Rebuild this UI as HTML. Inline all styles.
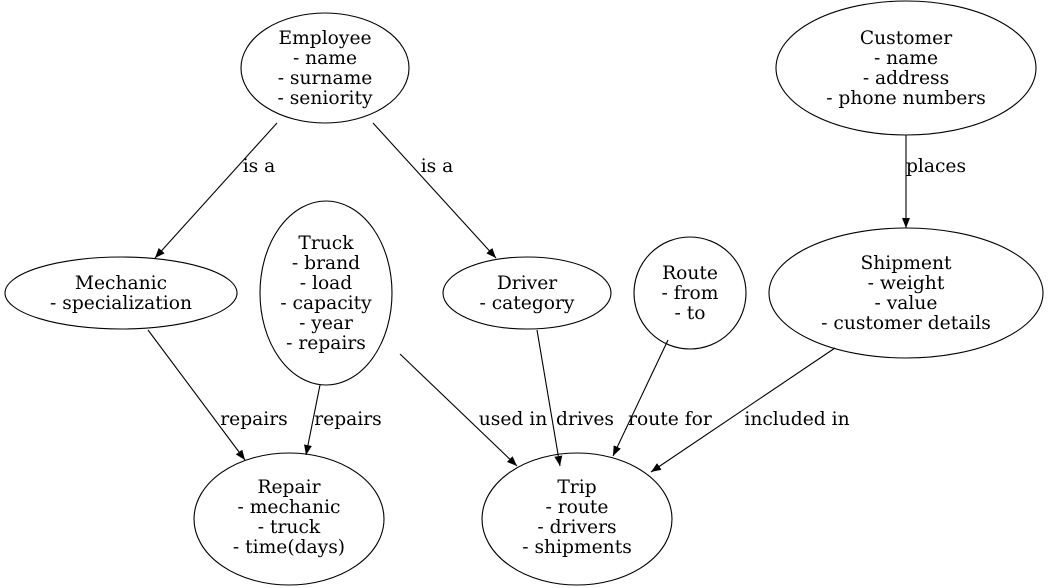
<!DOCTYPE html>
<html><head><meta charset="utf-8"><style>
html,body{margin:0;padding:0;background:#fff;}
svg{display:block}
text{font-family:"DejaVu Serif","Liberation Serif",serif;font-size:18.67px;fill:#000;text-anchor:middle;}
</style></head><body>
<svg width="1049" height="588" viewBox="0 0 1049 588" xmlns="http://www.w3.org/2000/svg">
<defs><marker id="a" markerWidth="10" markerHeight="8" refX="10" refY="4" orient="auto" markerUnits="userSpaceOnUse"><path d="M0,0 L10,4 L0,8 z" fill="#000"/></marker></defs>
<g fill="none" stroke="#000" stroke-width="1.1">
<ellipse cx="325" cy="68" rx="84" ry="55"/>
<ellipse cx="906" cy="68" rx="130" ry="67"/>
<ellipse cx="121" cy="293" rx="116" ry="36"/>
<ellipse cx="326" cy="293" rx="66" ry="92"/>
<ellipse cx="527" cy="293" rx="84" ry="36"/>
<ellipse cx="690" cy="293" rx="56" ry="56"/>
<ellipse cx="906" cy="293" rx="137" ry="65"/>
<ellipse cx="289" cy="519" rx="95" ry="66"/>
<ellipse cx="577" cy="519" rx="95" ry="66"/>
<line x1="277" y1="123" x2="155" y2="258" marker-end="url(#a)"/>
<line x1="373" y1="123" x2="496" y2="258" marker-end="url(#a)"/>
<line x1="906" y1="135" x2="906" y2="228" marker-end="url(#a)"/>
<line x1="148" y1="330" x2="245" y2="460" marker-end="url(#a)"/>
<line x1="320" y1="385" x2="306" y2="455" marker-end="url(#a)"/>
<line x1="400" y1="354" x2="517" y2="466" marker-end="url(#a)"/>
<line x1="537" y1="330" x2="560" y2="466" marker-end="url(#a)"/>
<line x1="668" y1="340" x2="613" y2="456" marker-end="url(#a)"/>
<line x1="835" y1="348" x2="651" y2="472" marker-end="url(#a)"/>
</g>
<text x="325" y="44">Employee</text><text x="325" y="64">- name</text><text x="325" y="84">- surname</text><text x="325" y="104">- seniority</text>
<text x="906" y="44">Customer</text><text x="906" y="64">- name</text><text x="906" y="84">- address</text><text x="906" y="104">- phone numbers</text>
<text x="121" y="289">Mechanic</text><text x="121" y="309">- specialization</text>
<text x="326" y="249">Truck</text><text x="326" y="269">- brand</text><text x="326" y="289">- load</text><text x="326" y="309">- capacity</text><text x="326" y="329">- year</text><text x="326" y="349">- repairs</text>
<text x="527" y="289">Driver</text><text x="527" y="309">- category</text>
<text x="690" y="279">Route</text><text x="690" y="299">- from</text><text x="690" y="319">- to</text>
<text x="906" y="269">Shipment</text><text x="906" y="289">- weight</text><text x="906" y="309">- value</text><text x="906" y="329">- customer details</text>
<text x="289" y="493">Repair</text><text x="289" y="513">- mechanic</text><text x="289" y="533">- truck</text><text x="289" y="553">- time(days)</text>
<text x="577" y="493">Trip</text><text x="577" y="513">- route</text><text x="577" y="533">- drivers</text><text x="577" y="553">- shipments</text>
<text x="259" y="172">is a</text>
<text x="437" y="172">is a</text>
<text x="936" y="172">places</text>
<text x="254" y="425">repairs</text>
<text x="348" y="425">repairs</text>
<text x="513" y="425">used in</text>
<text x="585" y="425">drives</text>
<text x="670" y="425">route for</text>
<text x="797" y="425">included in</text>
</svg>
</body></html>
